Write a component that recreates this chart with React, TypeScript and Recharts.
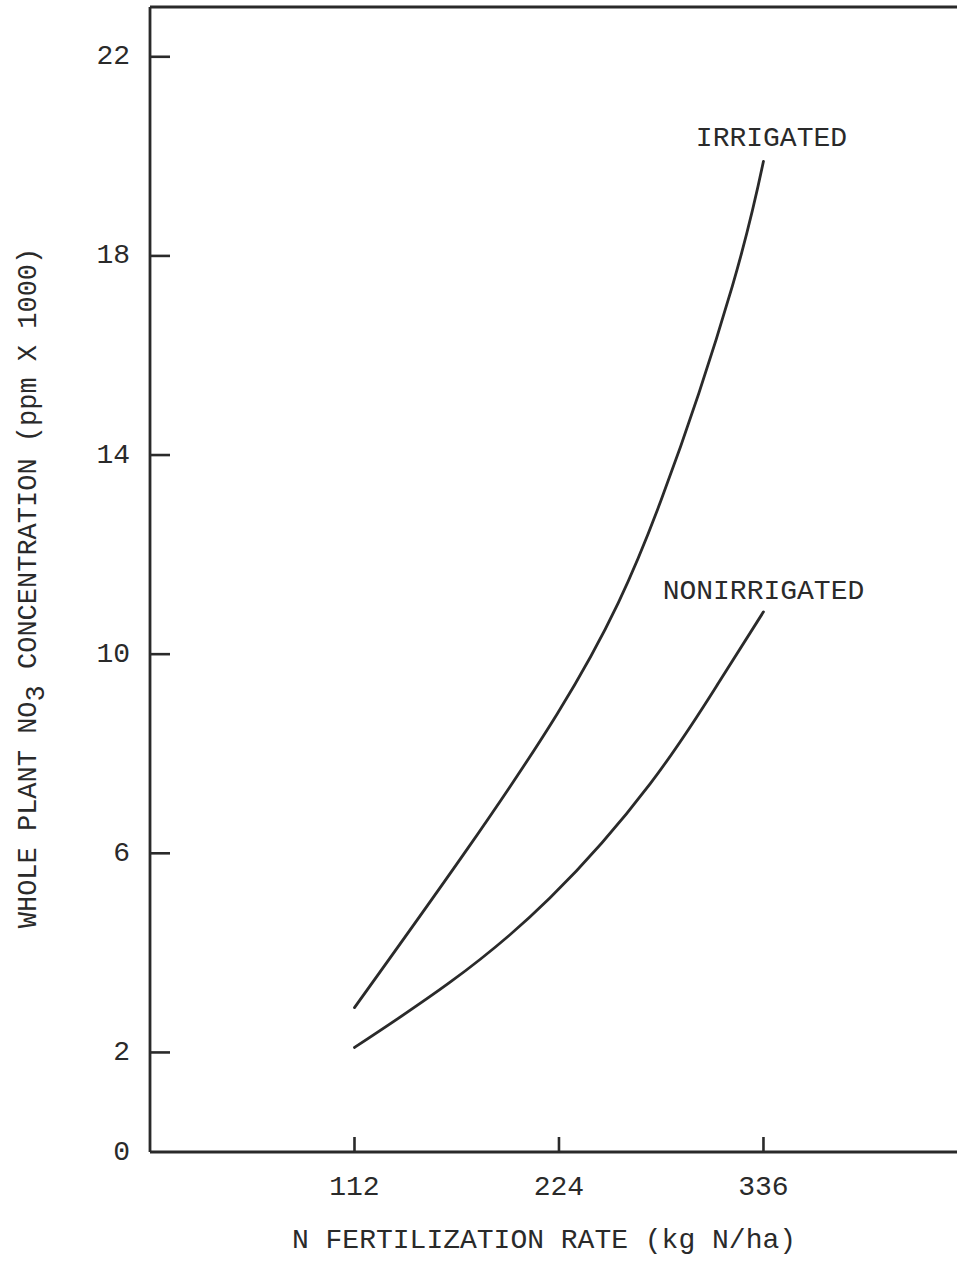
import { LineChart, Line, XAxis, YAxis, ReferenceLine, ReferenceDot } from "recharts";

// N fertilization rate (kg N/ha) and whole plant NO3 (ppm x 1000)
const irrigatedRate = [112, 223, 280, 319, 336];
const irrigatedNO3 = [2.9, 8.8, 13.1, 17.4, 19.9];
const nonirrigatedRate = [112, 164, 219, 274, 311, 336];
const nonirrigatedNO3 = [2.1, 3.4, 5.1, 7.4, 9.4, 10.85];

const rateTicks = [112, 224, 336];
const no3Ticks = [0, 2, 6, 10, 14, 18, 22];

const irrigated = irrigatedRate.map((rate, i) => ({ rate, no3: irrigatedNO3[i] }));
const nonirrigated = nonirrigatedRate.map((rate, i) => ({ rate, no3: nonirrigatedNO3[i] }));

const INK = "#2a2a2a";
const FONT = "'Liberation Mono', 'Courier New', monospace";

function YTick({ x, y, payload }: any) {
  return (
    <g>
      {payload.value !== 0 && (
        <line x1={x + 20} y1={y} x2={x + 40} y2={y} stroke={INK} strokeWidth={2.6} />
      )}
      <text x={x} y={y} textAnchor="end" dominantBaseline="central" fontFamily={FONT} fontSize={28} fill={INK}>
        {payload.value}
      </text>
    </g>
  );
}

function XTick({ x, y, payload }: any) {
  return (
    <g>
      <line x1={x} y1={y} x2={x} y2={y - 15} stroke={INK} strokeWidth={2.6} />
      <text x={x} y={y + 43} textAnchor="middle" fontFamily={FONT} fontSize={28} fill={INK}>
        {payload.value}
      </text>
    </g>
  );
}

function curveLabel(text: string, dx: number, dy: number) {
  return (props: any) => {
    const vb = props.viewBox;
    return (
      <text x={vb.x + 1 + dx} y={vb.y + 1 + dy} textAnchor="middle" fontFamily={FONT} fontSize={28} fill={INK}>
        {text}
      </text>
    );
  };
}

export default function App() {
  return (
    <div style={{ position: "absolute", left: 0, top: 0, width: 957, height: 1273, background: "#fff" }}>
      <LineChart width={957} height={1273} margin={{ top: 7, right: 0, left: 0, bottom: 0 }}>
        <XAxis
          dataKey="rate"
          type="number"
          domain={[0, 442]}
          ticks={rateTicks}
          allowDataOverflow
          height={121}
          axisLine={{ stroke: INK, strokeWidth: 2.8 }}
          tickLine={false}
          tickSize={0}
          tickMargin={0}
          tick={<XTick />}
        />
        <YAxis
          dataKey="no3"
          type="number"
          domain={[0, 23]}
          ticks={no3Ticks}
          allowDataOverflow
          width={150}
          axisLine={{ stroke: INK, strokeWidth: 2.8 }}
          tickLine={false}
          tickSize={0}
          tickMargin={20}
          tick={<YTick />}
        />
        <ReferenceLine y={23} stroke={INK} strokeWidth={2.8} />
        <Line
          data={irrigated}
          dataKey="no3"
          type="natural"
          stroke={INK}
          strokeWidth={2.8}
          strokeLinecap="round"
          dot={false}
          isAnimationActive={false}
        />
        <Line
          data={nonirrigated}
          dataKey="no3"
          type="natural"
          stroke={INK}
          strokeWidth={2.8}
          strokeLinecap="round"
          dot={false}
          isAnimationActive={false}
        />
        <ReferenceDot
          x={irrigatedRate[irrigatedRate.length - 1]}
          y={irrigatedNO3[irrigatedNO3.length - 1]}
          r={1}
          fill="none"
          stroke="none"
          label={curveLabel("IRRIGATED", 8, -15)}
        />
        <ReferenceDot
          x={nonirrigatedRate[nonirrigatedRate.length - 1]}
          y={nonirrigatedNO3[nonirrigatedNO3.length - 1]}
          r={1}
          fill="none"
          stroke="none"
          label={curveLabel("NONIRRIGATED", 0, -13)}
        />
        <text x={544} y={1248} textAnchor="middle" fontFamily={FONT} fontSize={28} fill={INK}>
          N FERTILIZATION RATE (kg N/ha)
        </text>
        <text
          x={36}
          y={588}
          transform="rotate(-90, 36, 588)"
          textAnchor="middle"
          fontFamily={FONT}
          fontSize={27}
          fill={INK}
        >
          WHOLE PLANT NO
          <tspan dy={8}>3</tspan>
          <tspan dy={-8}> CONCENTRATION (ppm X 1000)</tspan>
        </text>
      </LineChart>
    </div>
  );
}
